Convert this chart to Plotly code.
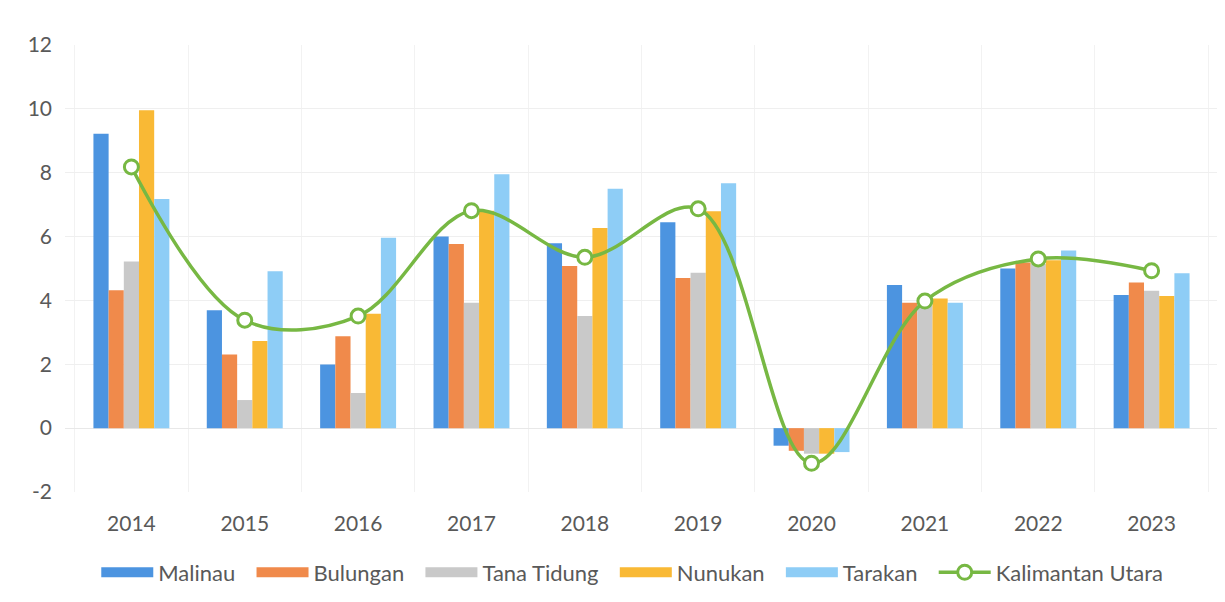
import plotly.graph_objects as go

years = ["2014", "2015", "2016", "2017", "2018", "2019", "2020", "2021", "2022", "2023"]
malinau = [9.22, 3.69, 1.99, 6.00, 5.79, 6.45, -0.55, 4.48, 5.00, 4.17]
bulungan = [4.32, 2.31, 2.88, 5.77, 5.08, 4.70, -0.71, 3.93, 5.19, 4.56]
tana_tidung = [5.22, 0.88, 1.10, 3.93, 3.51, 4.87, -0.80, 3.85, 5.14, 4.30]
nunukan = [9.96, 2.73, 3.58, 6.81, 6.27, 6.79, -0.80, 4.06, 5.26, 4.14]
tarakan = [7.18, 4.91, 5.96, 7.95, 7.50, 7.67, -0.75, 3.93, 5.56, 4.85]
kaltara = [8.18, 3.38, 3.51, 6.81, 5.35, 6.87, -1.10, 3.98, 5.30, 4.93]

y_tick_values = [-2, 0, 2, 4, 6, 8, 10, 12]
y_tick_labels = ["-2", "0", "2", "4", "6", "8", "10", "12"]

series = [
    ("Malinau", malinau, "#4C94E0"),
    ("Bulungan", bulungan, "#F08A4B"),
    ("Tana Tidung", tana_tidung, "#C9C9C9"),
    ("Nunukan", nunukan, "#F9B935"),
    ("Tarakan", tarakan, "#8ECDF6"),
]
line_color = "#77B843"
pad = "\u00a0\u00a0"

fig = go.Figure()
for name, vals, col in series:
    fig.add_trace(go.Bar(x=years, y=vals, name=name, legendgroup=name, showlegend=False,
                         marker=dict(color=col, line=dict(width=0))))
    # legend swatch: wide rectangle like the reference
    fig.add_trace(go.Scatter(x=[years[0]], y=[None], name=name + pad, legendgroup=name, mode="lines",
                             line=dict(color=col, width=12), hoverinfo="skip"))

fig.add_trace(go.Scatter(
    x=years, y=kaltara, name="Kalimantan Utara", mode="lines+markers",
    line=dict(color=line_color, width=3.5, shape="spline", smoothing=1.0),
    marker=dict(symbol="circle", size=14, color="white", line=dict(color=line_color, width=3)),
))

fig.update_layout(
    width=1225, height=602,
    paper_bgcolor="white", plot_bgcolor="white",
    margin=dict(l=57, r=15, t=37, b=118),
    barmode="group", bargap=0.33, bargroupgap=0,
    font=dict(family="Lato, Open Sans, sans-serif", size=21, color="#595959"),
    legend=dict(orientation="h", x=0.492, xanchor="center", y=-0.180, yanchor="middle",
                font=dict(size=22, color="#595959"), itemwidth=52, traceorder="normal",
                tracegroupgap=0),
    showlegend=True,
)
fig.update_xaxes(showgrid=True, gridcolor="#F2F2F2", showline=False, ticks="",
                 tickson="boundaries", ticklabelstandoff=17, automargin=False)
fig.update_yaxes(range=[-2, 12], tickvals=y_tick_values, ticktext=y_tick_labels,
                 showgrid=True, gridcolor="#EFEFEF",
                 zeroline=True, zerolinecolor="#E8E8E8", zerolinewidth=1,
                 ticks="", ticklabelstandoff=12, automargin=False)

fig.write_html("out.html")
